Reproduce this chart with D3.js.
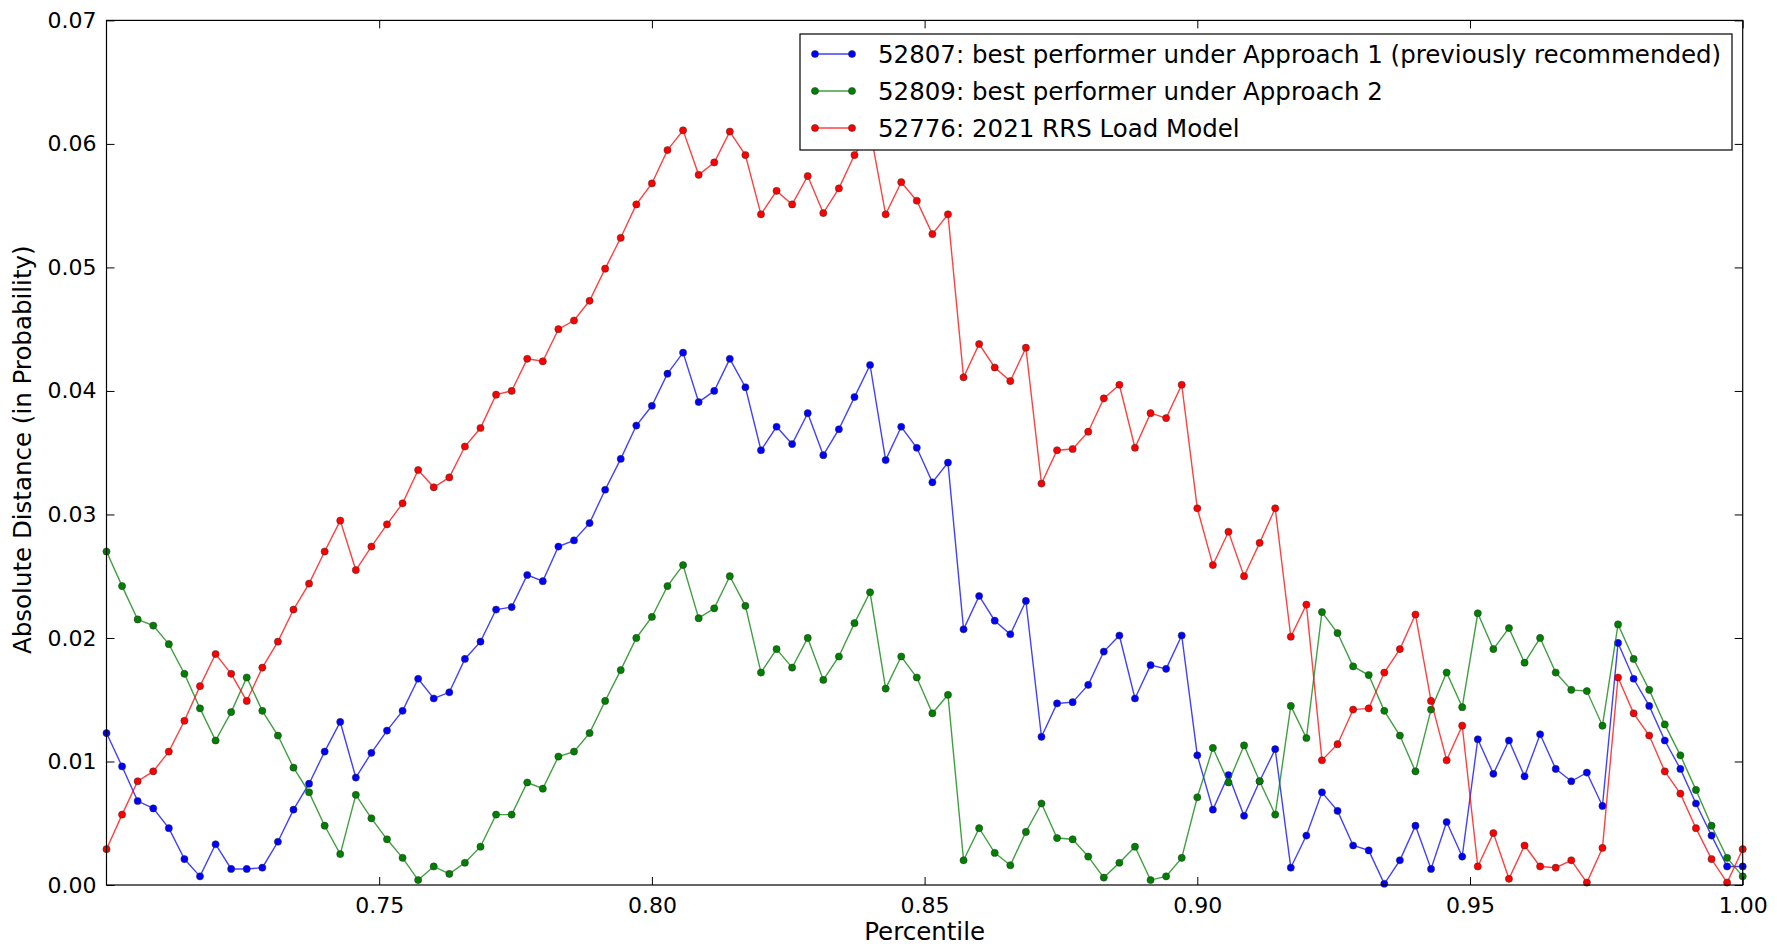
<!DOCTYPE html>
<html>
<head>
<meta charset="utf-8">
<script src="https://cdn.jsdelivr.net/npm/d3@7"></script>
<style>
  body { margin: 0; background: #fff; }
  text { font-family: "DejaVu Sans", sans-serif; fill: #000; }
</style>
</head>
<body>
<div class="chart"></div>
<script>
var svgWidth = 1777;
var svgHeight = 946;

var margin = { top: 20.4, right: 34.3, bottom: 61, left: 106.5 };
var width = svgWidth - margin.left - margin.right;
var height = svgHeight - margin.top - margin.bottom;

// percentile grid: 106 points from 0.70 to 1.00
var nPoints = 106;
var percentiles = d3.range(nPoints).map(i => 0.70 + i * 0.30 / (nPoints - 1));

var xTicks = [0.75, 0.80, 0.85, 0.90, 0.95, 1.00];
var yTicks = [0.00, 0.01, 0.02, 0.03, 0.04, 0.05, 0.06, 0.07];

var labels = [
  "52807: best performer under Approach 1 (previously recommended)",
  "52809: best performer under Approach 2",
  "52776: 2021 RRS Load Model"
];
var colors = ["#0000ff", "#008000", "#ff0000"];

var blueValues = [
  0.0123, 0.0096, 0.0068, 0.0062, 0.0046, 0.0021, 0.0007, 0.0033, 0.0013, 0.0013,
  0.0014, 0.0035, 0.0061, 0.0082, 0.0108, 0.0132, 0.0087, 0.0107, 0.0125, 0.0141,
  0.0167, 0.0151, 0.0156, 0.0183, 0.0197, 0.0223, 0.0225, 0.0251, 0.0246, 0.0274,
  0.0279, 0.0293, 0.0320, 0.0345, 0.0372, 0.0388, 0.0414, 0.0431, 0.0391, 0.0400,
  0.0426, 0.0403, 0.0352, 0.0371, 0.0357, 0.0382, 0.0348, 0.0369, 0.0395, 0.0421,
  0.0344, 0.0371, 0.0354, 0.0326, 0.0342, 0.0207, 0.0234, 0.0214, 0.0203, 0.0230,
  0.0120, 0.0147, 0.0148, 0.0162, 0.0189, 0.0202, 0.0151, 0.0178, 0.0175, 0.0202,
  0.0105, 0.0061, 0.0089, 0.0056, 0.0084, 0.0110, 0.0014, 0.0040, 0.0075, 0.0060,
  0.0032, 0.0028, 0.0001, 0.0020, 0.0048, 0.0013, 0.0051, 0.0023, 0.0118, 0.0090,
  0.0117, 0.0088, 0.0122, 0.0094, 0.0084, 0.0091, 0.0064, 0.0196, 0.0167, 0.0145,
  0.0117, 0.0094, 0.0066, 0.0040, 0.0015, 0.0015
];

var greenValues = [
  0.0270, 0.0242, 0.0215, 0.0210, 0.0195, 0.0171, 0.0143, 0.0117, 0.0140, 0.0168,
  0.0141, 0.0121, 0.0095, 0.0075, 0.0048, 0.0025, 0.0073, 0.0054, 0.0037, 0.0022,
  0.0004, 0.0015, 0.0009, 0.0018, 0.0031, 0.0057, 0.0057, 0.0083, 0.0078, 0.0104,
  0.0108, 0.0123, 0.0149, 0.0174, 0.0200, 0.0217, 0.0242, 0.0259, 0.0216, 0.0224,
  0.0250, 0.0226, 0.0172, 0.0191, 0.0176, 0.0200, 0.0166, 0.0185, 0.0212, 0.0237,
  0.0159, 0.0185, 0.0168, 0.0139, 0.0154, 0.0020, 0.0046, 0.0026, 0.0016, 0.0043,
  0.0066, 0.0038, 0.0037, 0.0023, 0.0006, 0.0018, 0.0031, 0.0004, 0.0007, 0.0022,
  0.0071, 0.0111, 0.0083, 0.0113, 0.0084, 0.0057, 0.0145, 0.0119, 0.0221, 0.0204,
  0.0177, 0.0170, 0.0141, 0.0121, 0.0092, 0.0142, 0.0172, 0.0144, 0.0220, 0.0191,
  0.0208, 0.0180, 0.0200, 0.0172, 0.0158, 0.0157, 0.0129, 0.0211, 0.0183, 0.0158,
  0.0130, 0.0105, 0.0077, 0.0048, 0.0022, 0.0007
];

var redValues = [
  0.0029, 0.0057, 0.0084, 0.0092, 0.0108, 0.0133, 0.0161, 0.0187, 0.0171, 0.0149,
  0.0176, 0.0197, 0.0223, 0.0244, 0.0270, 0.0295, 0.0255, 0.0274, 0.0292, 0.0309,
  0.0336, 0.0322, 0.0330, 0.0355, 0.0370, 0.0397, 0.0400, 0.0426, 0.0424, 0.0450,
  0.0457, 0.0473, 0.0499, 0.0524, 0.0551, 0.0568, 0.0595, 0.0611, 0.0575, 0.0585,
  0.0610, 0.0591, 0.0543, 0.0562, 0.0551, 0.0574, 0.0544, 0.0564, 0.0591, 0.0611,
  0.0543, 0.0569, 0.0554, 0.0527, 0.0543, 0.0411, 0.0438, 0.0419, 0.0408, 0.0435,
  0.0325, 0.0352, 0.0353, 0.0367, 0.0394, 0.0405, 0.0354, 0.0382, 0.0378, 0.0405,
  0.0305, 0.0259, 0.0286, 0.0250, 0.0277, 0.0305, 0.0201, 0.0227, 0.0101, 0.0114,
  0.0142, 0.0143, 0.0172, 0.0191, 0.0219, 0.0149, 0.0101, 0.0129, 0.0015, 0.0042,
  0.0005, 0.0032, 0.0015, 0.0014, 0.0020, 0.0002, 0.0030, 0.0168, 0.0139, 0.0121,
  0.0092, 0.0074, 0.0046, 0.0021, 0.0002, 0.0029
];

var seriesValues = [blueValues, greenValues, redValues];

var svg = d3.select(".chart")
  .append("svg")
  .attr("width", svgWidth)
  .attr("height", svgHeight);

var chartGroup = svg.append("g")
  .attr("transform", `translate(${margin.left}, ${margin.top})`);

var xScale = d3.scaleLinear().domain([0.70, 1.00]).range([0, width]);
var yScale = d3.scaleLinear().domain([0, 0.07]).range([height, 0]);

// lines + markers
var line = d3.line()
  .x((d, i) => xScale(percentiles[i]))
  .y(d => yScale(d));

seriesValues.forEach(function(vals, s) {
  chartGroup.append("path")
    .datum(vals)
    .attr("d", line)
    .attr("fill", "none")
    .attr("stroke", colors[s])
    .attr("stroke-opacity", 0.75)
    .attr("stroke-width", 1.4);

  chartGroup.append("g").selectAll("circle")
    .data(vals)
    .enter()
    .append("circle")
    .attr("cx", (d, i) => xScale(percentiles[i]))
    .attr("cy", d => yScale(d))
    .attr("r", 3.6)
    .attr("fill", colors[s])
    .attr("stroke", "#333")
    .attr("stroke-width", 0.5);
});

// axes, ticks inside on all four sides (classic style)
var tickLen = 8;
var bottomAxis = d3.axisBottom(xScale).tickValues(xTicks).tickFormat(d3.format(".2f"))
  .tickSizeInner(-tickLen).tickSizeOuter(0).tickPadding(12);
var topAxis = d3.axisTop(xScale).tickValues(xTicks).tickFormat("")
  .tickSizeInner(-tickLen).tickSizeOuter(0);
var leftAxis = d3.axisLeft(yScale).tickValues(yTicks).tickFormat(d3.format(".2f"))
  .tickSizeInner(-tickLen).tickSizeOuter(0).tickPadding(10);
var rightAxis = d3.axisRight(yScale).tickValues(yTicks).tickFormat("")
  .tickSizeInner(-tickLen).tickSizeOuter(0);

var xAxis = chartGroup.append("g").attr("transform", `translate(0, ${height})`).call(bottomAxis);
chartGroup.append("g").call(topAxis);
var yAxis = chartGroup.append("g").call(leftAxis);
chartGroup.append("g").attr("transform", `translate(${width}, 0)`).call(rightAxis);

chartGroup.selectAll(".domain").remove();
chartGroup.selectAll(".tick line").attr("stroke", "#000").attr("stroke-width", 1);
xAxis.selectAll("text").attr("font-size", "22px");
yAxis.selectAll("text").attr("font-size", "22px");

chartGroup.append("rect")
  .attr("width", width)
  .attr("height", height)
  .attr("fill", "none")
  .attr("stroke", "#000")
  .attr("stroke-width", 1.2);

// axis labels
chartGroup.append("text")
  .attr("x", width / 2)
  .attr("y", height + 55)
  .attr("text-anchor", "middle")
  .attr("font-size", "24.5px")
  .text("Percentile");

chartGroup.append("text")
  .attr("transform", "rotate(-90)")
  .attr("x", -height / 2 + 3)
  .attr("y", -76)
  .attr("text-anchor", "middle")
  .attr("font-size", "24.5px")
  .text("Absolute Distance (in Probability)");

// legend
var legendGroup = svg.append("g").attr("transform", "translate(800, 34)");
legendGroup.append("rect")
  .attr("width", 932)
  .attr("height", 116)
  .attr("fill", "#fff")
  .attr("stroke", "#000")
  .attr("stroke-width", 1.2);

labels.forEach(function(lab, s) {
  var row = legendGroup.append("g").attr("transform", `translate(0, ${20 + s * 37})`);
  row.append("line")
    .attr("x1", 15).attr("x2", 52)
    .attr("y1", 0).attr("y2", 0)
    .attr("stroke", colors[s])
    .attr("stroke-opacity", 0.75)
    .attr("stroke-width", 1.4);
  [15, 52].forEach(function(cx) {
    row.append("circle")
      .attr("cx", cx).attr("cy", 0).attr("r", 3.6)
      .attr("fill", colors[s])
      .attr("stroke", "#333")
      .attr("stroke-width", 0.5);
  });
  row.append("text")
    .attr("x", 78)
    .attr("y", 0)
    .attr("dy", "0.35em")
    .attr("font-size", "24.5px")
    .text(lab);
});
</script>
</body>
</html>
